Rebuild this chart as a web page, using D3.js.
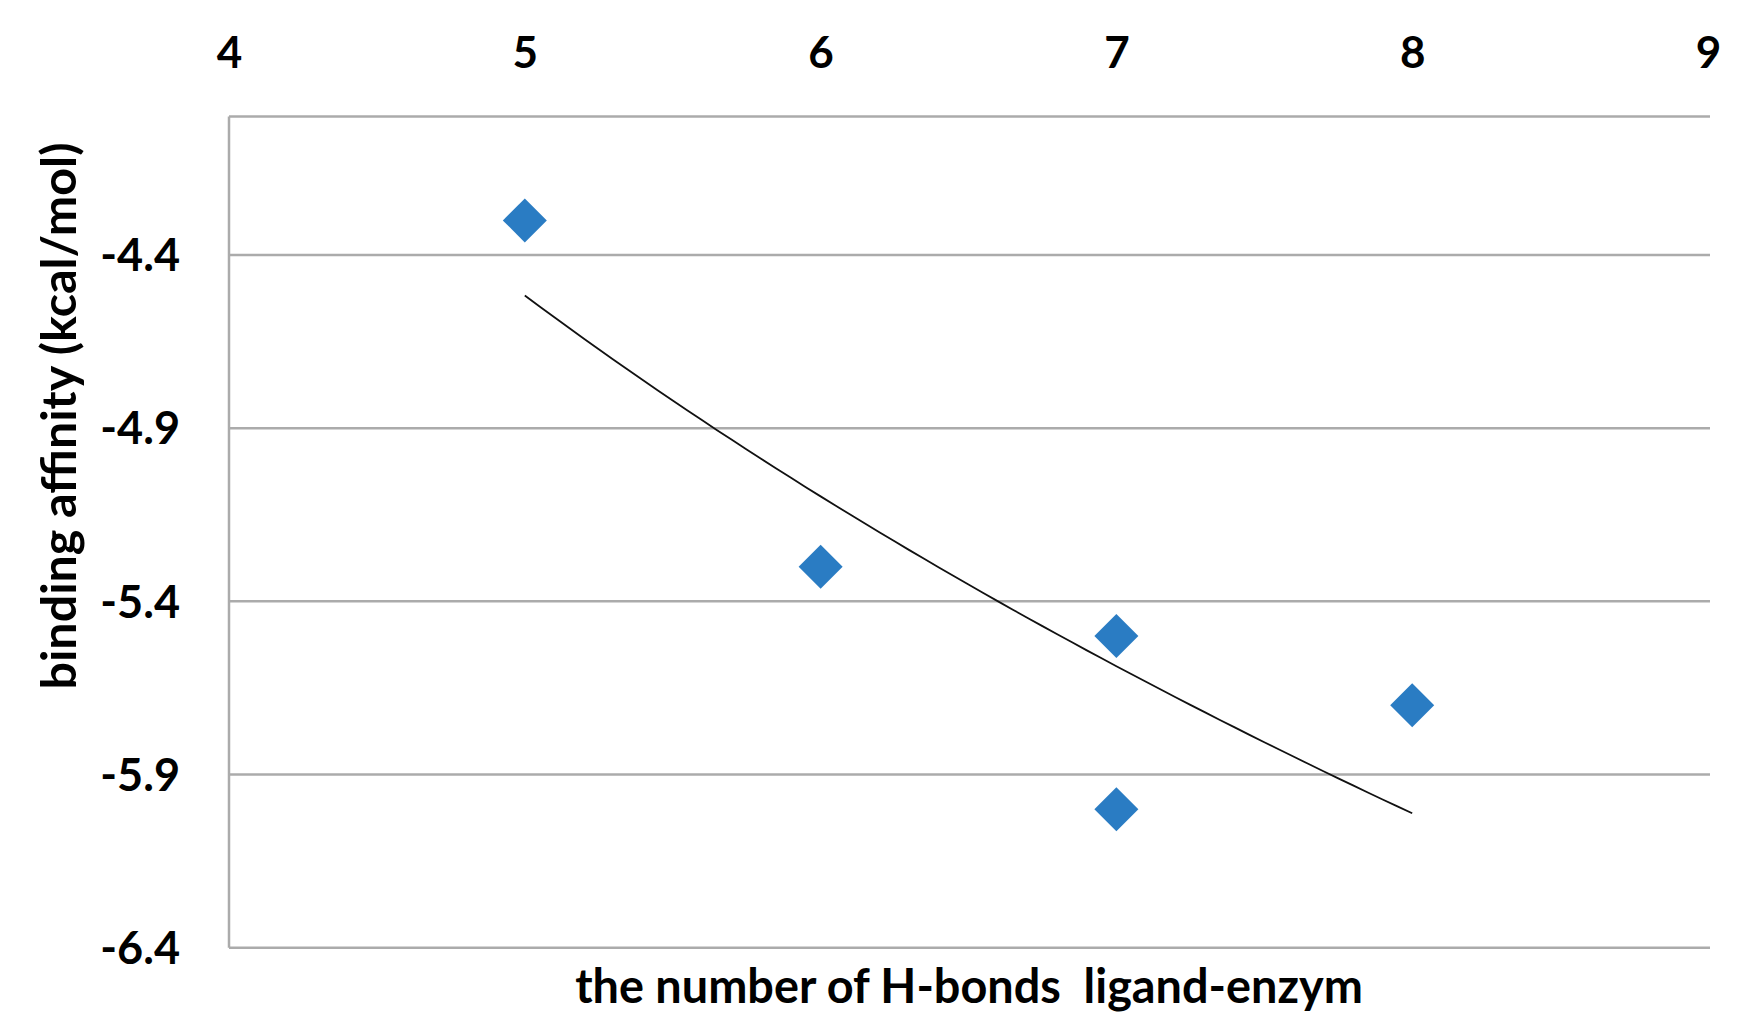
<!DOCTYPE html>
<html><head><meta charset="utf-8">
<script src="https://cdn.jsdelivr.net/npm/d3@7"></script>
<style>html,body{margin:0;padding:0;background:#fff;}svg{display:block;}</style>
</head><body>
<svg id="chart" width="1738" height="1030"></svg>
<script>
const hBonds = [5, 6, 7, 7, 8];
const affinity = [-4.3, -5.3, -5.5, -6.0, -5.7];
const xTicks = [4, 5, 6, 7, 8, 9];
const yTicks = [-6.4, -5.9, -5.4, -4.9, -4.4];
const xTitle = "the number of H-bonds  ligand-enzym";
const yTitle = "binding affinity (kcal/mol)";

const W = 1738, H = 1030;
const m = {left: 229, right: 1710, top: 116.5, bottom: 947.7};
const svg = d3.select("#chart");
const font = "Lato, 'Open Sans', sans-serif";

const x = d3.scaleLinear().domain([4, 9]).range([m.left, 1708]);
const y = d3.scaleLinear().domain([-6.4, -4.0]).range([m.bottom, m.top]);

const grid = "#ababab";
svg.append("g").selectAll("line").data(yTicks).join("line")
  .attr("x1", m.left).attr("x2", m.right)
  .attr("y1", d => y(d)).attr("y2", d => y(d))
  .attr("stroke", grid).attr("stroke-width", 2.5);
svg.append("line").attr("x1", m.left).attr("x2", m.right)
  .attr("y1", y(-4.0)).attr("y2", y(-4.0)).attr("stroke", grid).attr("stroke-width", 2.5);
svg.append("line").attr("x1", m.left).attr("x2", m.left)
  .attr("y1", y(-4.0)).attr("y2", y(-6.4)).attr("stroke", grid).attr("stroke-width", 2.5);

const xAxis = d3.axisTop(x).tickValues(xTicks).tickSize(0).tickFormat(d3.format("d"));
const gx = svg.append("g").attr("transform", `translate(0,${68})`).call(xAxis);
gx.select(".domain").remove();
gx.selectAll("text").attr("font-family", font).attr("font-weight", "bold")
  .attr("font-size", 44).attr("fill", "#000").attr("dy", 0).attr("y", 0);

const fmt = d3.format(".1f");
const yAxis = d3.axisLeft(y).tickValues(yTicks).tickSize(0).tickFormat(d => fmt(d).replace("\u2212", "-"));
const gy = svg.append("g").attr("transform", `translate(${180},0)`).call(yAxis);
gy.select(".domain").remove();
gy.selectAll("text").attr("font-family", font).attr("font-weight", "bold")
  .attr("font-size", 45).attr("fill", "#000").attr("x", 0).attr("dy", "0.35em");

// logarithmic trendline fitted to the data
const lx = hBonds.map(Math.log);
const mx = d3.mean(lx), my = d3.mean(affinity);
const b = d3.sum(lx.map((v, i) => (v - mx) * (affinity[i] - my))) / d3.sum(lx.map(v => (v - mx) ** 2));
const a = my - b * mx;
const xs = d3.range(d3.min(hBonds), d3.max(hBonds) + 1e-9, 0.05);
svg.append("path").datum(xs)
  .attr("d", d3.line().x(d => x(d)).y(d => y(a + b * Math.log(d))))
  .attr("fill", "none").attr("stroke", "#111").attr("stroke-width", 1.8);

const sym = d3.symbol().type(d3.symbolSquare).size(44 * 44 / 2);
svg.append("g").selectAll("path").data(hBonds.map((v, i) => [v, affinity[i]])).join("path")
  .attr("d", sym)
  .attr("transform", d => `translate(${x(d[0])},${y(d[1])}) rotate(45)`)
  .attr("fill", "#2a7cc3");

const xt = svg.append("text").attr("x", 969).attr("y", 1003).attr("text-anchor", "middle")
  .attr("font-family", font).attr("font-weight", "bold").attr("font-size", 44)
  .style("white-space", "pre").text(xTitle);
const xl = xt.node().getComputedTextLength();
xt.attr("font-size", 44 * 788 / xl);

const yt = svg.append("text").attr("transform", `translate(76,416) rotate(-90)`).attr("text-anchor", "middle")
  .attr("font-family", font).attr("font-weight", "bold").attr("font-size", 44).text(yTitle);
const yl = yt.node().getComputedTextLength();
yt.attr("font-size", 44 * 547 / yl);
</script>
</body></html>
